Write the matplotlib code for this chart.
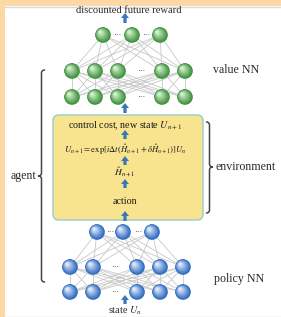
import numpy as np
import matplotlib
matplotlib.use("Agg")
import matplotlib.pyplot as plt
from matplotlib.patches import Circle, FancyBboxPatch, Rectangle, Polygon

plt.rcParams['font.family'] = ['Liberation Serif', 'DejaVu Serif']
plt.rcParams['mathtext.fontset'] = 'stix'

# layer layouts (x positions of nodes, y of layer)
value_top_x = [103, 132, 160]
value_mid_x = [72, 95, 118, 162, 185]
value_y = [35, 71, 97]
policy_top_x = [97, 123, 152]
policy_mid_x = [70, 93, 137, 160, 183]
policy_y = [232, 267, 292]

steps = ['control cost, new state $U_{n+1}$',
         r'$U_{n+1}=\exp[i\Delta t(\hat{H}_{n+1}+\delta\hat{H}_{n+1})]U_n$',
         r'$\hat{H}_{n+1}$',
         'action']
steps_y = [126, 150, 172, 202]
steps_size = [7.2, 6.2, 6.8, 7.2]
# arrows: (tail y, tip y)
arrows_y = [(23, 13), (113, 103), (139, 130), (165, 156), (188, 179), (221, 211), (304, 295)]

fig = plt.figure(figsize=(2.81, 3.17), dpi=100)
ax = fig.add_axes([0, 0, 1, 1])
ax.set_xlim(0, 281)
ax.set_ylim(317, 0)
ax.axis('off')

# frame
ax.add_patch(Rectangle((0, 0), 281, 5.5, color='#fcd9a4', lw=0))
ax.add_patch(Rectangle((0, 0), 5, 317, color='#fcd9a4', lw=0))
ax.plot([5, 281], [6.5, 6.5], color='#d8d8d8', lw=1)
ax.plot([5, 281], [316.5, 316.5], color='#d8d8d8', lw=1)


def sphere(x, y, dark, light, r=7.8):
    n = 14
    c1 = np.array(matplotlib.colors.to_rgb(dark))
    c2 = np.array(matplotlib.colors.to_rgb(light))
    for i in range(n):
        f = i / (n - 1)
        rr = r * (1 - 0.85 * f)
        off = (r - rr) * 0.45
        col = c1 * (1 - f) + c2 * f
        ax.add_patch(Circle((x - off, y - off), rr, color=col, lw=0, zorder=3))


def connect(xa, ya, xb, yb):
    for a in xa:
        for b in xb:
            ax.plot([a, b], [ya, yb], color='#c8c8c8', lw=0.6, zorder=1)


def arrow(x, y0, y1):
    hl = 5.0
    yh = y1 + hl
    pts = [(x - 1.6, y0), (x + 1.6, y0), (x + 1.6, yh), (x + 4, yh),
           (x, y1), (x - 4, yh), (x - 1.6, yh)]
    ax.add_patch(Polygon(pts, closed=True, color='#3a78b5', lw=0, zorder=4))


def dots(x, y):
    ax.text(x, y, '···', ha='center', va='center', fontsize=6, color='#444444', zorder=4)


# value NN
connect(value_top_x, value_y[0], value_mid_x, value_y[1])
connect(value_mid_x, value_y[1], value_mid_x, value_y[2])
for x in value_top_x:
    sphere(x, value_y[0], '#3a8f3a', '#d6f2cf')
for y in value_y[1:]:
    for x in value_mid_x:
        sphere(x, y, '#3a8f3a', '#d6f2cf')
    dots(141, y)
dots(117.5, value_y[0])
dots(146, value_y[0])

# policy NN
connect(policy_top_x, policy_y[0], policy_mid_x, policy_y[1])
connect(policy_mid_x, policy_y[1], policy_mid_x, policy_y[2])
for x in policy_top_x:
    sphere(x, policy_y[0], '#2a68c0', '#e0ebfa')
for y in policy_y[1:]:
    for x in policy_mid_x:
        sphere(x, y, '#2a68c0', '#e0ebfa')
    dots(115, y)
dots(110, policy_y[0])
dots(138, policy_y[0])

# environment box
ax.add_patch(FancyBboxPatch((55.5, 117.5), 145, 100, boxstyle='round,pad=2.5,rounding_size=6',
                            facecolor='#f8e38f', edgecolor='#a9d1c6', lw=1.2, zorder=2))
for s, y, fs in zip(steps, steps_y, steps_size):
    ax.text(125, y, s, ha='center', va='center', fontsize=fs, color='#1a1a1a', zorder=5)

for y0, y1 in arrows_y:
    arrow(125, y0, y1)

ax.text(129, 10.5, 'discounted future reward', ha='center', va='center', fontsize=7.6, color='#2a2a2a')
ax.text(125, 310.5, 'state $U_n$', ha='center', va='center', fontsize=7.4, color='#2a2a2a')
ax.text(213, 70, 'value NN', ha='left', va='center', fontsize=8.6, color='#2a2a2a')
ax.text(214, 279, 'policy NN', ha='left', va='center', fontsize=8.6, color='#2a2a2a')
ax.text(216, 167, 'environment', ha='left', va='center', fontsize=8.6, color='#2a2a2a')
ax.text(36, 176, 'agent', ha='right', va='center', fontsize=8.6, color='#2a2a2a')


def brace(x, y0, y1, ym, side, r=3.0):
    # side=-1: tip points left (arms to the right); side=+1: tip points right
    segs = []
    def arc(cx, cy, a0, a1):
        t = np.linspace(a0, a1, 20)
        return list(zip(cx + r * np.cos(t), cy + r * np.sin(t)))
    segs += arc(x + r, y0 + r, -np.pi / 2, -np.pi)
    segs += arc(x - r, ym - r, 0, np.pi / 2)
    segs += arc(x - r, ym + r, -np.pi / 2, 0)
    segs += arc(x + r, y1 - r, np.pi, np.pi / 2)
    xs = np.array([p[0] for p in segs])
    ys = np.array([p[1] for p in segs])
    if side > 0:
        xs = 2 * x - xs
    ax.plot(xs, ys, color='#444444', lw=1.1, solid_capstyle='round')


brace(41.5, 70, 282, 176, -1)
brace(209.5, 122, 213, 167, 1)

fig.savefig('out.png', dpi=100)
